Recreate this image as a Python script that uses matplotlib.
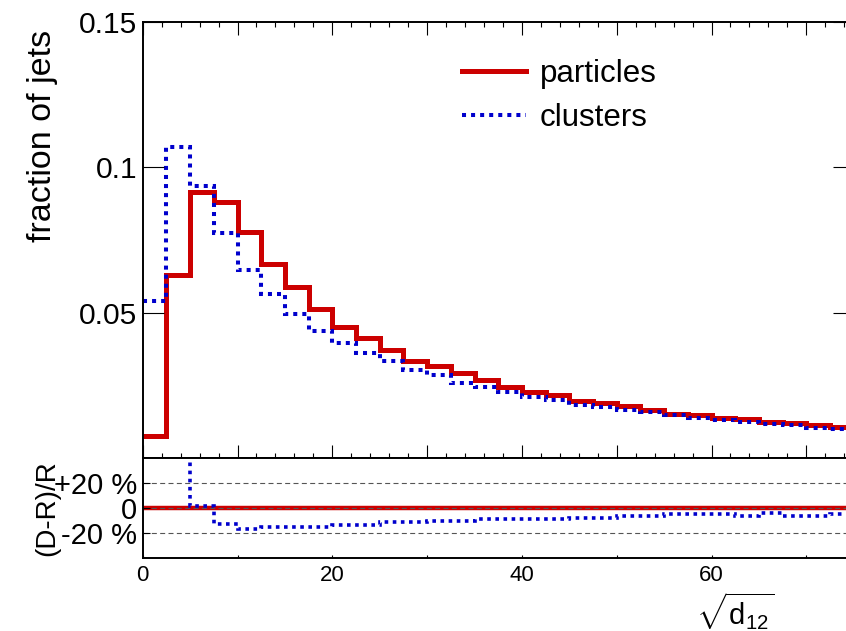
"""Jet fraction vs sqrt(d12): particles vs clusters, with ratio panel."""
import numpy as np
import matplotlib.pyplot as plt
from matplotlib.ticker import FixedLocator, FixedFormatter, MultipleLocator, NullFormatter

plt.rcParams['font.family'] = ['Liberation Sans', 'DejaVu Sans']
plt.rcParams['mathtext.fontset'] = 'custom'
plt.rcParams['mathtext.rm'] = 'Liberation Sans'
plt.rcParams['mathtext.it'] = 'Liberation Sans'

# histogram bins in sqrt(d12)
edges = np.arange(0, 75.1, 2.5)

particles = [0.0077, 0.0629, 0.0914, 0.0880, 0.0777, 0.0667, 0.0588, 0.0515,
             0.0453, 0.0413, 0.0374, 0.0336, 0.0317, 0.0293, 0.0269, 0.0246,
             0.0228, 0.0217, 0.0199, 0.0190, 0.0179, 0.0166, 0.0154, 0.0148,
             0.0138, 0.0134, 0.0126, 0.0123, 0.0114, 0.0107]
clusters = [0.0542, 0.1069, 0.0937, 0.0775, 0.0649, 0.0564, 0.0498, 0.0438,
            0.0396, 0.0364, 0.0334, 0.0304, 0.0286, 0.0260, 0.0247, 0.0228,
            0.0212, 0.0200, 0.0185, 0.0176, 0.0167, 0.0159, 0.0149, 0.0140,
            0.0133, 0.0127, 0.0119, 0.0114, 0.0106, 0.0102]
# (D-R)/R in percent
ratio_clusters = [600, 70, 2, -12.8, -17, -15.6, -15.6, -15.4, -13.4, -13.4,
                  -11.5, -11, -10.2, -10.2, -9, -9.2, -9.2, -9, -8, -8,
                  -6.3, -6.3, -4.8, -4.8, -4.8, -6.2, -4.3, -6.2, -6.2, -4.8]

y_ticks = [0.05, 0.1, 0.15]
y_tick_labels = ['0.05', '0.1', '0.15']
r_ticks = [-20, 0, 20]
r_tick_labels = ['-20 %', '0', '+20 %']
x_ticks = [0, 10, 20, 30, 40, 50, 60, 70]
x_tick_labels = ['0', '', '20', '', '40', '', '60', '']

RED = '#cc0000'
BLUE = '#0000cc'
dotted = (0, (1, 1.25))

fig = plt.figure(figsize=(8.46, 6.31), dpi=100)
ax = fig.add_axes([0.1687, 0.2734, 0.8404, 0.6918])
axr = fig.add_axes([0.1687, 0.1162, 0.8404, 0.1572])

# top panel
ax.stairs(particles, edges, baseline=None, color=RED, lw=3.6, label='particles')
ax.stairs(clusters, edges, baseline=None, color=BLUE, lw=2.9,
          linestyle=dotted, capstyle='butt', label='clusters')
ax.set_xlim(0, 75)
ax.set_ylim(0, 0.15)
ax.yaxis.set_major_locator(FixedLocator(y_ticks))
ax.yaxis.set_major_formatter(FixedFormatter(y_tick_labels))
ax.xaxis.set_major_locator(FixedLocator(x_ticks))
ax.xaxis.set_minor_locator(MultipleLocator(2))
ax.xaxis.set_major_formatter(NullFormatter())
ax.tick_params(axis='y', which='major', direction='in', length=15, width=0.8,
               left=True, right=True, labelsize=21.6, pad=4)
ax.tick_params(axis='x', which='major', direction='in', length=9.4, width=0.8,
               top=True, bottom=True, labelbottom=False)
ax.tick_params(axis='x', which='minor', direction='in', length=3.6, width=0.8,
               top=True, bottom=True)
ax.set_ylabel('fraction of jets', fontsize=24.5, loc='top')
ax.yaxis.set_label_coords(-0.119, 0.982)
ax.legend(loc='upper left', bbox_to_anchor=(0.449, 0.915), frameon=False,
          fontsize=22.5, handlelength=2.05, handletextpad=0.45,
          labelspacing=0.45, borderpad=0, borderaxespad=0)

# ratio panel
ratio_particles = np.array(particles) / np.array(particles) - 1
axr.stairs(ratio_particles * 100, edges, baseline=None, color=RED, lw=3.2)
axr.stairs(ratio_clusters, edges, baseline=None, color=BLUE, lw=2.6,
           linestyle=dotted, capstyle='butt')
axr.set_xlim(0, 75)
axr.set_ylim(-40, 40)
axr.yaxis.set_major_locator(FixedLocator(r_ticks))
axr.yaxis.set_major_formatter(FixedFormatter(r_tick_labels))
axr.xaxis.set_major_locator(FixedLocator(x_ticks))
axr.xaxis.set_major_formatter(FixedFormatter(x_tick_labels))
axr.grid(axis='y', color='#555555', lw=0.8, linestyle=(0, (4.5, 3)))
axr.tick_params(axis='y', direction='in', length=5, width=0.8,
                left=True, right=True, labelsize=21, pad=4)
axr.tick_params(axis='x', which='major', direction='in', length=2, width=0.8,
                labelsize=16, pad=5)
axr.set_ylabel('(D-R)/R', fontsize=20, loc='top')
axr.yaxis.set_label_coords(-0.116, 0.985)
axr.set_xlabel(r'$\sqrt{\mathrm{d}_{12}}$', fontsize=21, loc='right')
axr.xaxis.set_label_coords(0.889, -0.33)

for a in (ax, axr):
    for s in a.spines.values():
        s.set_linewidth(1.4)

fig.savefig('out.png', dpi=100)
